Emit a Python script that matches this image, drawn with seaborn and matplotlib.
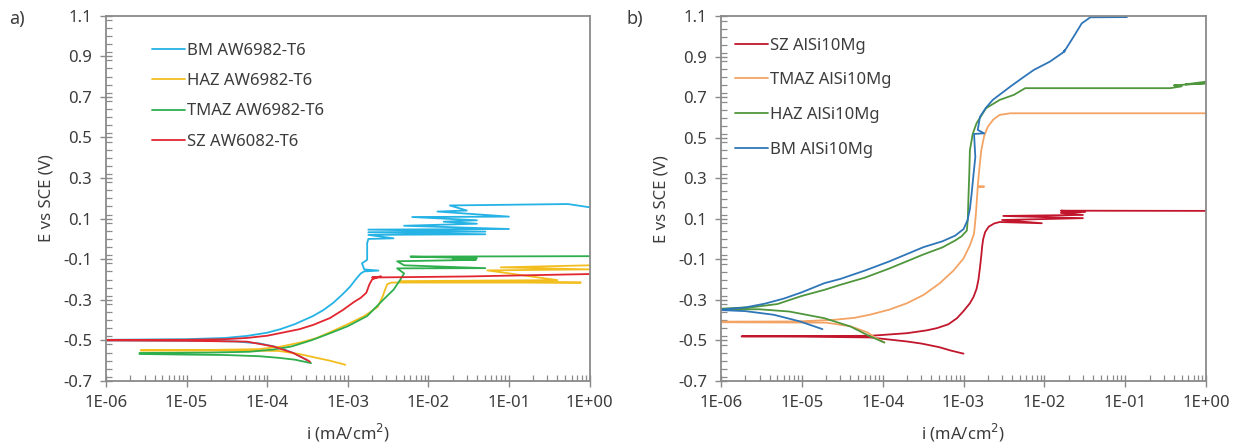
import matplotlib
matplotlib.use("Agg")
import matplotlib.pyplot as plt
from matplotlib.ticker import LogLocator, NullFormatter, MultipleLocator
import numpy as np
import pandas as pd
import seaborn as sns

# ---------------------------------------------------------------------------
# Potentiodynamic polarization curves: current density (mA/cm2) vs potential (V vs SCE)
# Each curve runs from the cathodic end, through Ecorr, then along the anodic branch.
# ---------------------------------------------------------------------------

# a) AW6082-T6 weld zones
bm_a_i = [3.2e-4, 2.2e-4, 1.4e-4, 8e-5, 4e-5, 1.5e-5, 1e-6,
          1e-6, 1e-5, 3e-5, 5.6e-5, 1e-4, 1.45e-4, 2.2e-4, 3.7e-4, 5e-4, 6.6e-4, 8.5e-4,
          1.07e-3, 1.25e-3, 1.45e-3,
          1.6e-3, 2.4e-3, 1.6e-3, 1.5e-3, 1.74e-3, 1.74e-3, 1.8e-3, 3.7e-3,
          1.8e-3, 5.1e-2, 1.8e-3, 5.1e-2, 1.8e-3, 1.0e-1, 5e-3, 4e-2, 1.55e-2, 4e-2,
          6.3e-3, 1.0e-1, 1.3e-2, 3e-2, 1.85e-2, 5.4e-1, 1.0]
bm_a_e = [-0.60, -0.565, -0.535, -0.515, -0.505, -0.502, -0.50,
          -0.497, -0.494, -0.488, -0.478, -0.462, -0.445, -0.42, -0.38, -0.35, -0.315, -0.275,
          -0.235, -0.2, -0.17,
          -0.16, -0.156, -0.15, -0.12, -0.103, -0.02, 0.0, 0.003,
          0.02, 0.023, 0.033, 0.036, 0.046, 0.049, 0.065, 0.075, 0.085, 0.092,
          0.108, 0.11, 0.135, 0.14, 0.165, 0.172, 0.156]

haz_a_i = [9.3e-4, 6e-4, 4e-4, 2.5e-4, 1.4e-4, 5e-5, 1e-5, 2.7e-6,
           2.7e-6, 2e-5, 8e-5, 1.5e-4, 2.6e-4, 4e-4, 6e-4, 1e-3, 1.6e-3, 2.35e-3, 2.7e-3,
           2.9e-3, 3.1e-3, 3.5e-3, 7.8e-1, 4.5e-3, 4e-1, 5.4e-2, 1.0, 7.9e-2, 1.0]
haz_a_e = [-0.62, -0.60, -0.585, -0.567, -0.552, -0.55, -0.55, -0.55,
           -0.548, -0.547, -0.543, -0.53, -0.51, -0.49, -0.46, -0.42, -0.38, -0.335, -0.285,
           -0.25, -0.222, -0.215, -0.215, -0.208, -0.203, -0.155, -0.15, -0.14, -0.13]

tmaz_a_i = [3.5e-4, 2.2e-4, 1.4e-4, 8e-5, 3e-5, 1e-5, 2.6e-6,
            2.6e-6, 2e-5, 6e-5, 1.2e-4, 2e-4, 3.5e-4, 6e-4, 1e-3, 1.74e-3, 2.75e-3, 3.7e-3,
            4.5e-3, 5e-3, 4.1e-3, 5.1e-2, 5e-3, 4.1e-3, 3.9e-2, 2e-2, 4e-2, 6e-3, 1.0]
tmaz_a_e = [-0.612, -0.595, -0.586, -0.578, -0.572, -0.57, -0.567,
            -0.562, -0.56, -0.556, -0.545, -0.53, -0.50, -0.465, -0.43, -0.38, -0.30, -0.25,
            -0.20, -0.17, -0.145, -0.144, -0.13, -0.11, -0.103, -0.098, -0.095, -0.087, -0.085]

sz_a_i = [3.4e-4, 3.1e-4, 2.1e-4, 1.2e-4, 5.6e-5, 1e-5, 1e-6,
          1e-6, 1e-5, 3e-5, 5.6e-5, 1e-4, 1.45e-4, 2.5e-4, 3.7e-4, 6e-4, 8.7e-4, 1.2e-3,
          1.45e-3, 1.7e-3, 1.85e-3, 2e-3, 2.3e-3, 2.6e-3, 2.0e-3, 3e-2, 1.0]
sz_a_e = [-0.605, -0.596, -0.562, -0.53, -0.506, -0.502, -0.50,
          -0.498, -0.497, -0.494, -0.488, -0.477, -0.464, -0.445, -0.424, -0.39, -0.35, -0.31,
          -0.29, -0.265, -0.225, -0.20, -0.19, -0.185, -0.19, -0.185, -0.173]

# b) AlSi10Mg weld zones
sz_b_i = [1.0e-3, 7e-4, 5e-4, 3e-4, 2e-4, 7e-5, 1e-5, 1.8e-6,
          1.8e-6, 1e-5, 7e-5, 2e-4, 3.5e-4, 4.7e-4, 6.5e-4, 8.3e-4, 1.0e-3, 1.2e-3, 1.33e-3,
          1.45e-3, 1.53e-3, 1.6e-3, 1.66e-3, 1.7e-3, 1.75e-3, 1.85e-3, 2.05e-3, 2.4e-3,
          2.8e-3, 9.3e-3, 3e-3, 3e-2, 3.1e-3, 3e-2, 1.6e-2, 3.2e-2, 1.6e-2, 1.0]
sz_b_e = [-0.565, -0.55, -0.533, -0.515, -0.505, -0.485, -0.481, -0.48,
          -0.479, -0.478, -0.477, -0.464, -0.45, -0.439, -0.42, -0.39, -0.355, -0.316, -0.285,
          -0.245, -0.2, -0.138, -0.08, -0.036, 0.0, 0.035, 0.062, 0.078,
          0.085, 0.079, 0.095, 0.104, 0.115, 0.12, 0.13, 0.135, 0.141, 0.14]

tmaz_b_i = [1.05e-4, 8e-5, 6.5e-5, 4e-5, 2e-5, 1e-6,
            1e-6, 8.7e-6, 2.5e-5, 4.5e-5, 6.9e-5, 1.2e-4, 2e-4, 3.2e-4, 5.1e-4, 7.5e-4,
            1.0e-3, 1.2e-3, 1.35e-3, 1.42e-3, 1.5e-3, 1.8e-3, 1.5e-3, 1.58e-3, 1.66e-3,
            1.8e-3, 2.0e-3, 2.35e-3, 2.8e-3, 3.8e-3, 1.0]
tmaz_b_e = [-0.51, -0.485, -0.46, -0.43, -0.412, -0.41,
            -0.407, -0.406, -0.398, -0.388, -0.373, -0.348, -0.316, -0.275, -0.217, -0.155,
            -0.095, -0.03, 0.027, 0.12, 0.258, 0.26, 0.262, 0.36, 0.44,
            0.51, 0.556, 0.592, 0.614, 0.622, 0.622]

haz_b_i = [1.05e-4, 7e-5, 4e-5, 1.9e-5, 7e-6, 3e-6, 1e-6,
           1e-6, 2.5e-6, 5e-6, 1e-5, 1.9e-5, 3e-5, 6e-5, 1.2e-4, 3.2e-4, 5.5e-4, 7.9e-4,
           9.5e-4, 1.1e-3, 1.13e-3, 1.15e-3, 1.18e-3, 1.2e-3, 1.3e-3, 1.45e-3, 1.9e-3, 2.8e-3,
           4.2e-3, 5.8e-3, 3.6e-1, 5e-1, 4e-1, 1.0, 5.6e-1, 1.0]
haz_b_e = [-0.51, -0.48, -0.431, -0.39, -0.357, -0.346, -0.345,
           -0.343, -0.335, -0.32, -0.28, -0.25, -0.225, -0.19, -0.145, -0.075, -0.04, -0.006,
           0.015, 0.043, 0.1, 0.2, 0.33, 0.44, 0.52, 0.573, 0.647, 0.688,
           0.713, 0.746, 0.746, 0.755, 0.76, 0.77, 0.765, 0.778]

bm_b_i = [1.8e-5, 9.5e-6, 4.5e-6, 2e-6, 1e-6,
          1e-6, 2e-6, 3.5e-6, 6e-6, 1e-5, 1.9e-5, 3e-5, 6e-5, 1.2e-4, 3.2e-4, 5.5e-4, 7.9e-4,
          1.0e-3, 1.12e-3, 1.2e-3, 1.26e-3, 1.33e-3, 1.4e-3,
          1.35e-3, 1.8e-3, 1.5e-3, 1.6e-3, 1.9e-3, 2.3e-3, 3.8e-3, 5.5e-3, 7.4e-3, 1.17e-2,
          1.7e-2, 1.8e-2, 1.75e-2, 2.3e-2, 2.9e-2, 3.7e-2, 1.05e-1]
bm_b_e = [-0.444, -0.406, -0.373, -0.355, -0.35,
          -0.347, -0.337, -0.318, -0.293, -0.262, -0.217, -0.196, -0.155, -0.11, -0.039,
          -0.01, 0.018, 0.05, 0.093, 0.15, 0.225, 0.32, 0.406,
          0.52, 0.523, 0.54, 0.605, 0.65, 0.688, 0.754, 0.8, 0.836, 0.877,
          0.922, 0.935, 0.925, 1.0, 1.066, 1.096, 1.097]

series_a = ["BM AW6982-T6", "HAZ AW6982-T6", "TMAZ AW6982-T6", "SZ AW6082-T6"]
series_b = ["SZ AlSi10Mg", "TMAZ AlSi10Mg", "HAZ AlSi10Mg", "BM AlSi10Mg"]
curves_a = [(bm_a_i, bm_a_e), (haz_a_i, haz_a_e), (tmaz_a_i, tmaz_a_e), (sz_a_i, sz_a_e)]
curves_b = [(sz_b_i, sz_b_e), (tmaz_b_i, tmaz_b_e), (haz_b_i, haz_b_e), (bm_b_i, bm_b_e)]
colors_a = ["#25b2e4", "#f2be1e", "#2eae4c", "#e2262f"]
colors_b = ["#c2162c", "#f3a465", "#4f963d", "#2f76b8"]

x_ticks = [1e-6, 1e-5, 1e-4, 1e-3, 1e-2, 1e-1, 1e0]
x_ticklabels = ["1E-06", "1E-05", "1E-04", "1E-03", "1E-02", "1E-01", "1E+00"]
y_ticks = [-0.7, -0.5, -0.3, -0.1, 0.1, 0.3, 0.5, 0.7, 0.9, 1.1]


def frame(names, curves):
    parts = []
    for name, (cur, pot) in zip(names, curves):
        parts.append(pd.DataFrame({"i": cur, "E": pot, "series": name,
                                   "step": np.arange(len(cur))}))
    return pd.concat(parts, ignore_index=True)


sns.set_style("white")
plt.rcParams["font.family"] = ["Noto Sans", "DejaVu Sans"]

fig = plt.figure(figsize=(12.39, 4.48), dpi=100)
ax_a = fig.add_axes([0.0856, 0.1496, 0.3902, 0.8153])
ax_b = fig.add_axes([0.5819, 0.1496, 0.3915, 0.8136])

grey = "#8a8a8a"
txt = "#3c3c3c"
fs = 12

panels = [
    (ax_a, series_a, curves_a, colors_a, "a)", 0.007, (0.094, 0.926), 0.86),
    (ax_b, series_b, curves_b, colors_b, "b)", 0.506, (0.028, 0.942), 1.12),
]

for ax, names, curves, cols, tag, tag_x, leg_anchor, spacing in panels:
    df = frame(names, curves)
    sns.lineplot(data=df, x="i", y="E", hue="series", hue_order=names,
                 palette=dict(zip(names, cols)), sort=False, estimator=None,
                 lw=1.3, ax=ax, legend=True)
    ax.set_xscale("log")
    ax.set_xlim(1e-6, 1.0)
    ax.set_ylim(-0.7, 1.1)
    ax.set_xticks(x_ticks, x_ticklabels)
    ax.xaxis.set_minor_locator(LogLocator(base=10, subs=np.arange(2, 10)))
    ax.xaxis.set_minor_formatter(NullFormatter())
    ax.set_yticks(y_ticks, [f"{v:.1f}" for v in y_ticks])
    ax.yaxis.set_minor_locator(MultipleLocator(0.04))
    ax.tick_params(which="both", bottom=True, left=True, top=False, right=False)
    ax.tick_params(which="major", direction="inout", length=8, width=1.0,
                   color=grey, labelsize=fs, labelcolor=txt, pad=6)
    ax.tick_params(which="minor", direction="in", length=4, width=0.9, color=grey)
    for sp in ax.spines.values():
        sp.set_color(grey)
        sp.set_linewidth(1.3)
    ax.set_xlabel("i (mA/cm$^2$)", fontsize=fs, color=txt, labelpad=8)
    ax.set_ylabel("E vs SCE (V)", fontsize=fs, color=txt, labelpad=6)
    handles, labels = ax.get_legend_handles_labels()
    ax.legend(handles, labels, loc="upper left", bbox_to_anchor=leg_anchor,
              frameon=False, fontsize=fs, handlelength=2.0, handletextpad=0.15,
              labelspacing=spacing, borderpad=0, borderaxespad=0,
              labelcolor=txt)
    fig.text(tag_x, 0.958, tag, fontsize=13, color=txt, va="center", ha="left")

fig.savefig("out.png", dpi=100)
